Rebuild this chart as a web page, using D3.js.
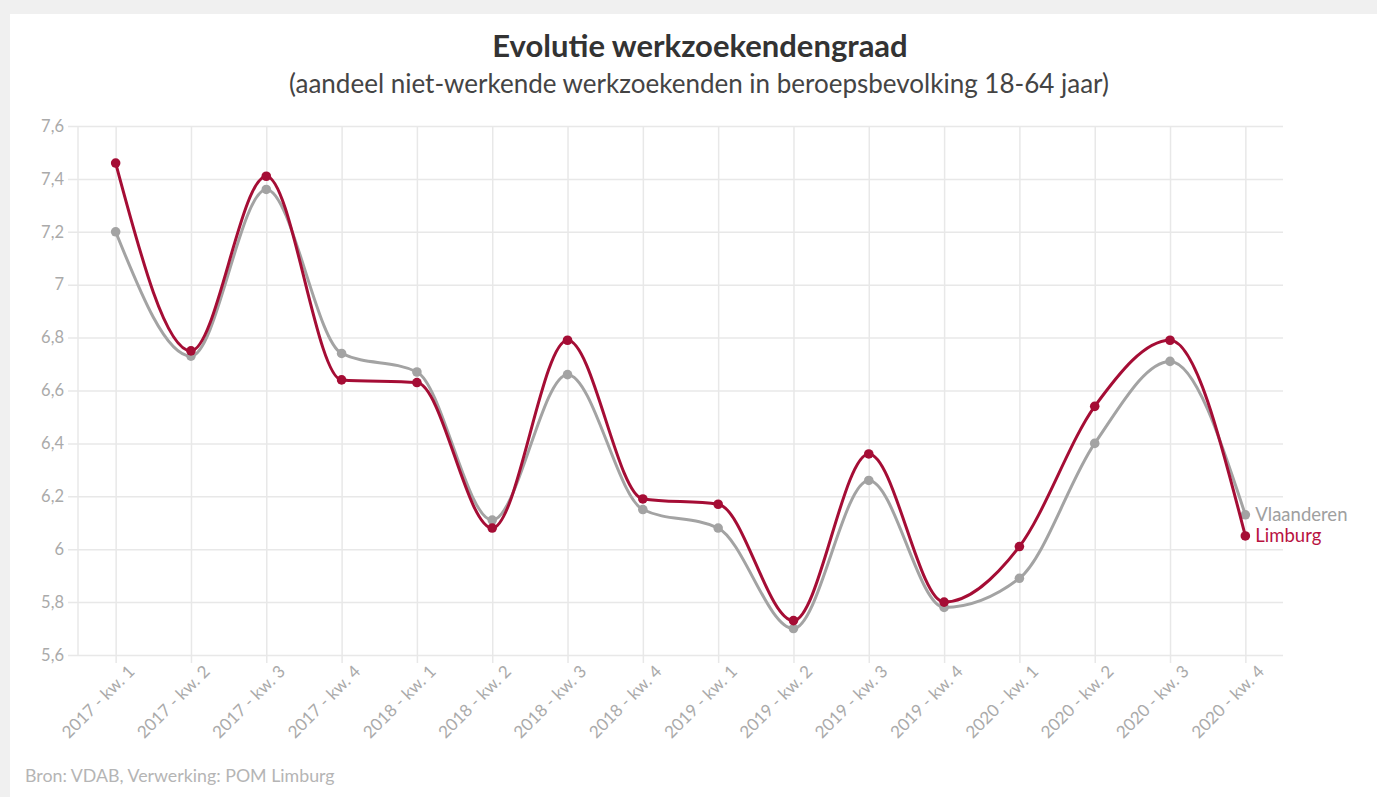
<!DOCTYPE html>
<html>
<head>
<meta charset="utf-8">
<script src="https://cdn.jsdelivr.net/npm/d3@7"></script>
<style>
  body { margin: 0; background: #f0f0f0; font-family: Lato, "Open Sans", sans-serif; }
  #chart { position: absolute; left: 10px; top: 14px; }
</style>
</head>
<body>
<div id="chart"></div>
<script>
var categories = ["2017 - kw. 1", "2017 - kw. 2", "2017 - kw. 3", "2017 - kw. 4",
                  "2018 - kw. 1", "2018 - kw. 2", "2018 - kw. 3", "2018 - kw. 4",
                  "2019 - kw. 1", "2019 - kw. 2", "2019 - kw. 3", "2019 - kw. 4",
                  "2020 - kw. 1", "2020 - kw. 2", "2020 - kw. 3", "2020 - kw. 4"];
var vlaanderen = [7.20, 6.73, 7.36, 6.74, 6.67, 6.11, 6.66, 6.15,
                  6.08, 5.70, 6.26, 5.78, 5.89, 6.40, 6.71, 6.13];
var limburg = [7.46, 6.75, 7.41, 6.64, 6.63, 6.08, 6.79, 6.19,
               6.17, 5.73, 6.36, 5.80, 6.01, 6.54, 6.79, 6.05];
var yTicks = [5.6, 5.8, 6, 6.2, 6.4, 6.6, 6.8, 7, 7.2, 7.4, 7.6];

var series = [
  { name: "Vlaanderen", values: vlaanderen, color: "#a3a3a3", text: "#a0a0a0" },
  { name: "Limburg", values: limburg, color: "#a50d35", text: "#b8123f" }
];

var width = 1367, height = 783;
var margin = { top: 112, right: 94, bottom: 142, left: 68 };

var svg = d3.select("#chart").append("svg")
    .attr("width", width)
    .attr("height", height);

svg.append("rect")
    .attr("width", width)
    .attr("height", height)
    .attr("fill", "#fff");

var x = d3.scalePoint()
    .domain(categories)
    .range([margin.left, width - margin.right])
    .padding(0.5);

var y = d3.scaleLinear()
    .domain([5.6, 7.6])
    .range([height - margin.bottom, margin.top]);

// titles
svg.append("text")
    .attr("x", 690)
    .attr("y", 43)
    .attr("text-anchor", "middle")
    .attr("font-size", 31)
    .attr("font-weight", "bold")
    .attr("fill", "#333")
    .text("Evolutie werkzoekendengraad");

svg.append("text")
    .attr("x", 689)
    .attr("y", 79)
    .attr("text-anchor", "middle")
    .attr("font-size", 26)
    .attr("fill", "#444")
    .text("(aandeel niet-werkende werkzoekenden in beroepsbevolking 18-64 jaar)");

// y grid + labels
svg.append("g")
    .attr("transform", "translate(" + (width - margin.right) + ",0)")
    .call(d3.axisLeft(y)
        .tickValues(yTicks)
        .tickSize(width - margin.right - margin.left + 10)
        .tickPadding(4)
        .tickFormat(function(d) { return d3.format(".1~f")(d).replace(".", ","); }))
    .call(function(g) {
      g.select(".domain").remove();
      g.selectAll("line").attr("stroke", "#e8e8e8").attr("stroke-width", 1.5);
      g.selectAll("text").attr("fill", "#aaa").attr("font-size", 16.5)
        .attr("font-family", "Lato, sans-serif");
    });

// left edge line
svg.append("line")
    .attr("x1", margin.left).attr("x2", margin.left)
    .attr("y1", margin.top).attr("y2", height - margin.bottom)
    .attr("stroke", "#e8e8e8")
    .attr("stroke-width", 1.5);

// x grid + labels
svg.append("g")
    .attr("transform", "translate(0," + (height - margin.bottom) + ")")
    .call(d3.axisBottom(x).tickSize(8).tickPadding(6))
    .call(function(g) {
      g.select(".domain").remove();
      g.selectAll("line")
        .attr("y1", -(height - margin.bottom - margin.top))
        .attr("stroke", "#e8e8e8")
        .attr("stroke-width", 1.5);
      g.selectAll("text")
        .attr("fill", "#aaa")
        .attr("font-size", 17)
        .attr("font-family", "Lato, sans-serif")
        .attr("text-anchor", "end")
        .attr("dy", "0.3em")
        .attr("transform", "translate(6,4) rotate(-45)");
    });

var line = d3.line()
    .x(function(d, i) { return x(categories[i]); })
    .y(function(d) { return y(d); })
    .curve(d3.curveMonotoneX);

var sg = svg.selectAll(".series")
  .data(series)
  .enter().append("g")
    .attr("class", "series");

sg.append("path")
    .attr("d", function(d) { return line(d.values); })
    .attr("fill", "none")
    .attr("stroke", function(d) { return d.color; })
    .attr("stroke-width", 3);

sg.selectAll("circle")
  .data(function(d) { return d.values.map(function(v) { return { v: v, c: d.color }; }); })
  .enter().append("circle")
    .attr("cx", function(d, i) { return x(categories[i]); })
    .attr("cy", function(d) { return y(d.v); })
    .attr("r", 4.8)
    .attr("fill", function(d) { return d.c; });

sg.append("text")
    .attr("x", x(categories[categories.length - 1]) + 10)
    .attr("y", function(d) { return y(d.values[d.values.length - 1]); })
    .attr("dy", "0.35em")
    .attr("font-size", 18.5)
    .attr("fill", function(d) { return d.text; })
    .text(function(d) { return d.name; });

// source
svg.append("text")
    .attr("x", 15)
    .attr("y", 768)
    .attr("font-size", 17.8)
    .attr("fill", "#b5b5b5")
    .text("Bron: VDAB, Verwerking: POM Limburg");
</script>
</body>
</html>
